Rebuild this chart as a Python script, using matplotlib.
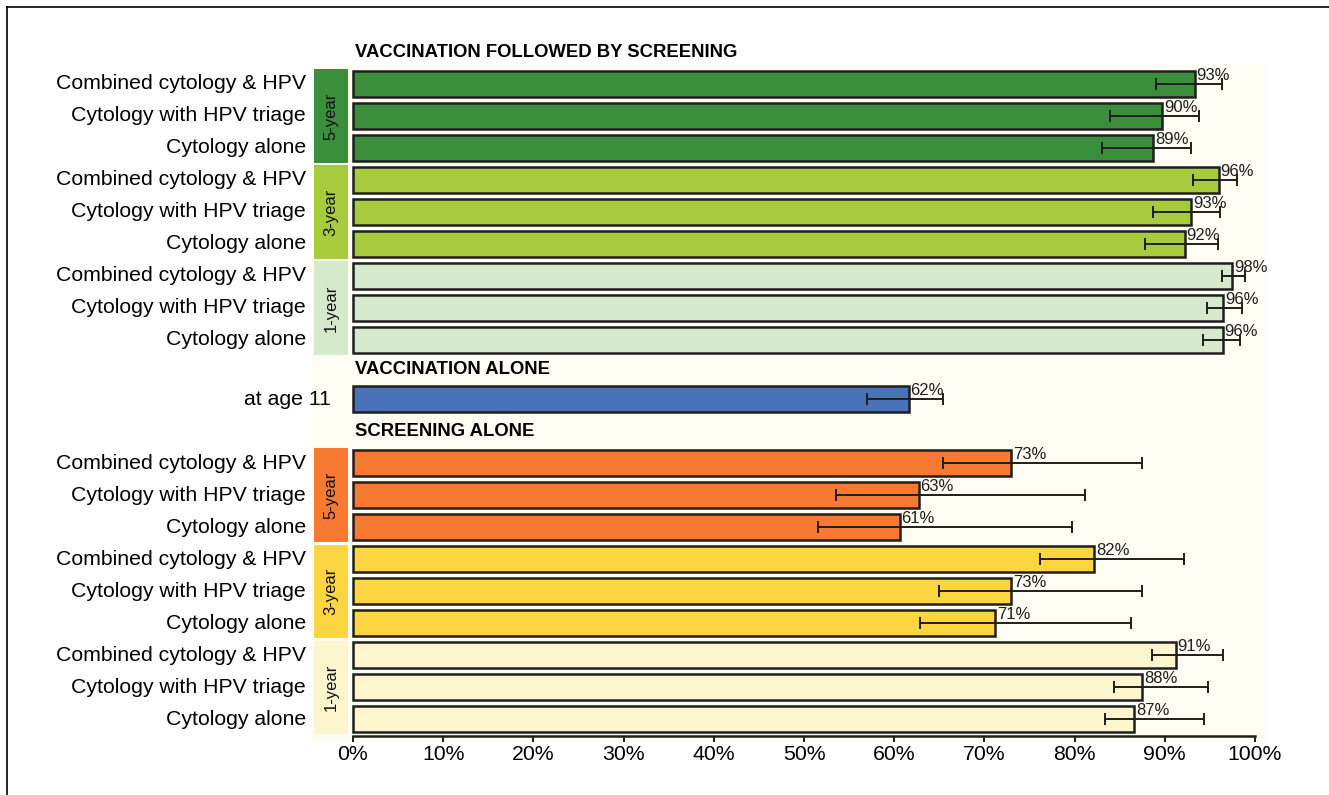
import matplotlib
matplotlib.use('Agg')
import matplotlib.pyplot as plt
from matplotlib.patches import Rectangle
from matplotlib.lines import Line2D

plt.rcParams['font.family'] = ['Liberation Sans', 'DejaVu Sans']

# Rows inside each screening interval group
methods = ["Combined cytology & HPV", "Cytology with HPV triage", "Cytology alone"]
intervals = ["5-year", "3-year", "1-year"]

# Vaccination followed by screening: estimate, lower, upper (%)
vfs_est = [93.3, 89.7, 88.7, 96.0, 92.9, 92.2, 97.5, 96.5, 96.4]
vfs_lo = [89.0, 83.9, 83.0, 93.1, 88.7, 87.8, 96.3, 94.7, 94.2]
vfs_hi = [96.3, 93.8, 92.9, 98.0, 96.1, 95.9, 98.9, 98.6, 98.3]

# Vaccination alone
vac_label = "at age 11"
vac_est = 61.6
vac_lo = 57.0
vac_hi = 65.4

# Screening alone
sa_est = [73.0, 62.7, 60.6, 82.2, 73.0, 71.2, 91.2, 87.5, 86.6]
sa_lo = [65.4, 53.5, 51.6, 76.2, 65.0, 62.9, 88.6, 84.4, 83.4]
sa_hi = [87.5, 81.2, 79.7, 92.1, 87.5, 86.3, 96.5, 94.8, 94.3]

xticks = [0, 10, 20, 30, 40, 50, 60, 70, 80, 90, 100]

vfs_colors = ["#3b8e3b", "#a6cb3c", "#d5e9cc"]
sa_colors = ["#f87a32", "#fdd540", "#fdf5cd"]
vac_color = "#4a72b8"
panel_color = "#fefdf3"

BAR_H = 0.81
VFS_TOP = 0.0
VAC_ROW = 9.85
SA_TOP = 11.85


def draw_bar(ax, y, est, lo, hi, color):
    ax.barh(y, est, height=BAR_H, color=color, edgecolor='#1e1e1e',
            linewidth=1.8, zorder=2)
    ax.errorbar(est, y, xerr=[[est - lo], [hi - est]], fmt='none',
                ecolor='#1e1e1e', elinewidth=1.4, capsize=4, capthick=1.4,
                zorder=3)
    ax.text(est + 0.2, y - 0.12, "%.0f%%" % est, ha='left', va='baseline',
            fontsize=12, color='#1e1e1e', zorder=4)


def draw_section(ax, top, est, lo, hi, colors, title):
    ax.text(0.2, top - 0.98, title, ha='left', va='center', fontsize=13.3,
            fontweight='bold', clip_on=False)
    for g, name in enumerate(intervals):
        first = top + 3 * g
        ax.add_patch(Rectangle((-4.3, first - 0.46), 3.75, 2.92,
                               facecolor=colors[g], edgecolor='none',
                               zorder=1))
        ax.text(-2.42, first + 1.0, name, rotation=90, ha='center',
                va='center', fontsize=12, color='#111111', zorder=2)
        for r, m in enumerate(methods):
            i = 3 * g + r
            y = first + r
            draw_bar(ax, y, est[i], lo[i], hi[i], colors[g])
            ax.text(-5.2, y, m, ha='right', va='center', fontsize=15.3,
                    clip_on=False)


fig = plt.figure(figsize=(13.29, 7.95), dpi=100)
W, H = 1329.0, 795.0
ax = fig.add_axes([312 / W, 1 - 742 / H, (1265 - 312) / W, (742 - 65) / H])
ax.set_facecolor(panel_color)

draw_section(ax, VFS_TOP, vfs_est, vfs_lo, vfs_hi, vfs_colors,
             "VACCINATION FOLLOWED BY SCREENING")

ax.text(0.2, VAC_ROW - 0.93, "VACCINATION ALONE", ha='left', va='center',
        fontsize=13.3, fontweight='bold')
draw_bar(ax, VAC_ROW, vac_est, vac_lo, vac_hi, vac_color)
ax.text(-2.5, VAC_ROW, vac_label, ha='right', va='center', fontsize=15.3,
        clip_on=False)

draw_section(ax, SA_TOP, sa_est, sa_lo, sa_hi, sa_colors, "SCREENING ALONE")

ax.set_xlim(-(353 - 312) / 9.02, 100 + (1265 - 1255) / 9.02)
ax.set_ylim(20.56, -0.59)
ax.set_yticks([])
for side in ('top', 'right', 'left'):
    ax.spines[side].set_visible(False)
ax.spines['bottom'].set_position(('data', 20.38))
ax.spines['bottom'].set_bounds(0, 100)
ax.spines['bottom'].set_linewidth(1.8)
ax.spines['bottom'].set_color('#1e1e1e')
ax.set_xticks(xticks)
ax.set_xticklabels(["%d%%" % t for t in xticks])
ax.tick_params(axis='x', direction='out', length=4, width=1.4,
               labelsize=15.3, pad=2, color='#1e1e1e')

# Frame lines along the top and left edges of the figure
fig.add_artist(Line2D([6.5 / W, 1.0], [1 - 6.5 / H, 1 - 6.5 / H],
                      color='black', linewidth=1.2))
fig.add_artist(Line2D([6.5 / W, 6.5 / W], [0.0, 1 - 6.5 / H],
                      color='black', linewidth=1.2))

fig.savefig('out.png', dpi=100, facecolor='white')
